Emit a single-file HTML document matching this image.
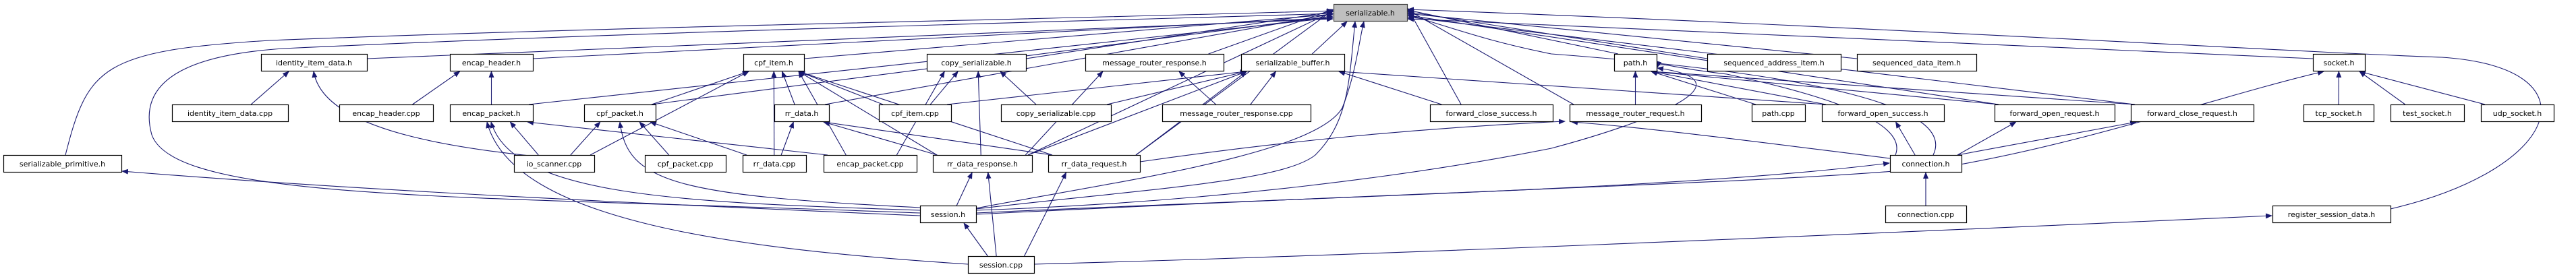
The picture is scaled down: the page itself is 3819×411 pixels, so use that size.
<!DOCTYPE html>
<html><head><meta charset="utf-8"><style>
html,body{margin:0;padding:0;background:#fff;width:3819px;height:411px;overflow:hidden}
svg{display:block}
text{font-family:"DejaVu Sans","Liberation Sans",sans-serif;font-size:11px;fill:#000}
</style></head><body>
<svg id="g" width="3819" height="411" xmlns="http://www.w3.org/2000/svg">
<defs><marker id="a" markerWidth="10" markerHeight="8" refX="9" refY="4" orient="auto" markerUnits="userSpaceOnUse"><path d="M0,0 L10,4 L0,8 z" fill="#191970"/></marker></defs>
<g id="e" fill="none" stroke="#191970" stroke-width="1.1"></g>
<g id="n"></g>
</svg>
<script>
var N={
S:[1977,2086,6,"serializable.h"],
SP:[5,180,230,"serializable_primitive.h"],
IDH:[387,544,80,"identity_item_data.h"],
EH:[667,790,80,"encap_header.h"],
IDC:[255,427,155,"identity_item_data.cpp"],
EHC:[503,642,155,"encap_header.cpp"],
EP:[667,790,155,"encap_packet.h"],
CP:[866,972,155,"cpf_packet.h"],
IO:[762,881,230,"io_scanner.cpp"],
CI:[1102,1192,80,"cpf_item.h"],
CS:[1374,1521,80,"copy_serializable.h"],
MRR:[1609,1814,80,"message_router_response.h"],
SB:[1840,1993,80,"serializable_buffer.h"],
RD:[1148,1229,155,"rr_data.h"],
CIC:[1303,1410,155,"cpf_item.cpp"],
CSC:[1484,1647,155,"copy_serializable.cpp"],
MRRC:[1723,1943,155,"message_router_response.cpp"],
CPC:[956,1076,230,"cpf_packet.cpp"],
RDC:[1101,1195,230,"rr_data.cpp"],
EPC:[1221,1359,230,"encap_packet.cpp"],
RDR:[1383,1530,230,"rr_data_response.h"],
RDQ:[1554,1690,230,"rr_data_request.h"],
SH:[1364,1447,305,"session.h"],
SC:[1435,1533,380,"session.cpp"],
PH:[2393,2456,80,"path.h"],
SAI:[2531,2729,80,"sequenced_address_item.h"],
SDI:[2753,2930,80,"sequenced_data_item.h"],
FCS:[2120,2302,155,"forward_close_success.h"],
MRQ:[2327,2522,155,"message_router_request.h"],
PC:[2597,2676,155,"path.cpp"],
FOS:[2701,2882,155,"forward_open_success.h"],
CN:[2802,2908,230,"connection.h"],
CNC:[2795,2915,305,"connection.cpp"],
FOR:[2957,3135,155,"forward_open_request.h"],
FCR:[3159,3341,155,"forward_close_request.h"],
SK:[3429,3506,80,"socket.h"],
TCP:[3415,3519,155,"tcp_socket.h"],
TST:[3544,3653,155,"test_socket.h"],
UDP:[3678,3786,155,"udp_socket.h"],
RSD:[3369,3544,305,"register_session_data.h"]
};
var H=25;
var E=[
"IDH S","EH S","EP S","CP S","CI S","CS S","MRR S","SB S","RD S","FCS S","MRQ S","PH S","SAI S","SDI S","SK S","FOR S","FCR S","RDR S","RDQ S",
"IDC IDH","EHC EH","EP EH","IO EP","EPC EP","IO CP","CPC CP","RDC CP",
"CP CI","RD CI","CIC CI","RDR CI","RDQ CI","RDC CI","EPC CI","IO CI",
"CIC CS","CSC CS","RDR CS","EPC CS","RDC RD","RDR RD","RDQ RD","RDR MRR","MRRC MRR",
"CIC SB","CSC SB","MRRC SB","FCS SB","FOS SB","RDR SB","RDQ SB",
"SH RDR","SC RDR","SC RDQ","SC SH","CNC CN","CN FOS","CN FOR","CN FCR",
"FOR PH","FCR PH","MRQ PH","PC PH","FOS PH","TCP SK","TST SK","UDP SK"
];
var ns="http://www.w3.org/2000/svg",eg=document.getElementById('e'),ng=document.getElementById('n');
function P(d){var p=document.createElementNS(ns,'path');p.setAttribute('d',d);p.setAttribute('marker-end','url(#a)');eg.appendChild(p);}
function cx(n){return (n[0]+n[1])/2}
function cl(v,a,b){return Math.max(a,Math.min(b,v))}
E.forEach(function(s){var k=s.split(' '),a=N[k[0]],b=N[k[1]];
 var tcx=cx(b),scx=cx(a);
 var sx=cl(scx+(tcx-scx)*0.25,a[0]+6,a[1]-6),sy=a[2];
 var tx,ty;
 if(k[1]=='S'&&(scx<b[0]-120||scx>b[1]+120)){
   var d=Math.abs(scx-tcx);
   tx=scx<b[0]?b[0]-1:b[1]+1; ty=cl(10+d/80,10,28);
   if(a[2]==80&&d>500){sx=scx<b[0]?a[1]:a[0];sy=a[2]+7;}
 } else {
   tx=cl(b[0]+(b[1]-b[0])*0.5+(scx-tcx)*0.3,b[0]+8,b[1]-8); ty=b[2]+H+1;
 }
 P('M'+sx+','+sy+' L'+tx+','+ty);
});
// special curves
P('M97,230 C130,100 150,75 400,60 C900,40 1500,30 1976,16');
P('M1364,316 C700,290 260,300 225,200 C200,110 300,80 420,72 C1000,45 1600,32 1976,20');
P('M1364,320 C900,300 500,280 181,254');
P('M881,240 C700,225 480,200 465,106');
P('M1364,312 C1000,300 760,290 728,181');
P('M1435,392 C1100,370 760,330 722,181');
P('M1364,308 C1000,290 930,270 919,181');
P('M1447,312 C1800,300 2100,260 2300,220 C2450,180 2600,120 2457,101');
P('M1447,316 C2000,290 2500,280 2801,242');
P('M1447,318 C2200,280 2700,270 2900,245 C3100,210 3300,140 3445,106');
P('M1533,392 C2000,380 2700,350 3368,320');
P('M1447,310 C1700,280 1900,270 1950,230 C2000,180 2000,120 2009,32');
P('M1447,309 C1650,270 1950,230 1990,160 C2010,110 2015,60 2022,32');
P('M3544,310 C3800,250 3850,100 3620,85 C3450,80 2800,40 2087,14');
P('M1690,240 C1900,210 2100,190 2320,180');
P('M2802,235 C2600,210 2450,190 2330,181');
P('M2810,230 C2830,180 2700,140 2560,110 C2470,100 2460,90 2457,100');
P('M2866,230 C2900,160 2700,110 2300,80 C2200,60 2150,40 2087,22');
for(var k in N){var n=N[k];
 var r=document.createElementNS(ns,'rect');r.setAttribute('x',n[0]+0.5);r.setAttribute('y',n[2]+0.5);r.setAttribute('width',n[1]-n[0]);r.setAttribute('height',H);
 r.setAttribute('fill',k=='S'?'#bfbfbf':'#fff');r.setAttribute('stroke',k=='S'?'#404040':'#000');r.setAttribute('stroke-width','1.2');ng.appendChild(r);
 var t=document.createElementNS(ns,'text');t.setAttribute('x',cx(n));t.setAttribute('y',n[2]+17);t.setAttribute('text-anchor','middle');t.textContent=n[3];ng.appendChild(t);}
</script>
</body></html>
